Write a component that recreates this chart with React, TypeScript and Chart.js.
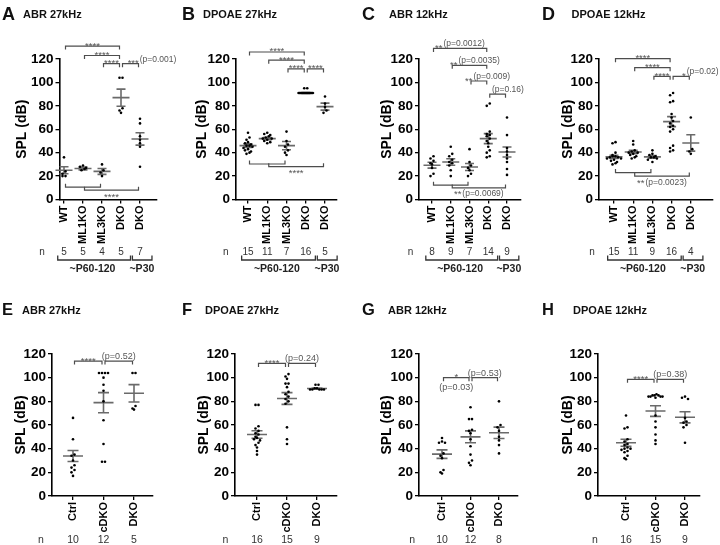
import React, { useEffect, useRef } from 'react';
import { Chart, registerables } from 'chart.js';

Chart.register(...registerables);

const FONT = "'Liberation Sans', Arial, Helvetica, sans-serif";
const STAT = '#6a6a6a';
const BRK = '#4d4d4d';
const LBL = '#555555';

// ---------- categories / ticks ----------
const topGroups = ['WT', 'ML1KO', 'ML3KO', 'DKO', 'DKO'];
const bottomGroups = ['Ctrl', 'cDKO', 'DKO'];
const yTickValues = [0, 20, 40, 60, 80, 100, 120];
const ageLabels = ['~P60-120', '~P30'];
const yTitle = 'SPL (dB)';

type Bracket = { from: number; to: number; y: number; stars?: string; p?: string; at?: number; side?: 'top' | 'bottom'; pBelow?: boolean };

// ---------- A: ABR 27kHz ----------
const aPoints = [[36, 24, 22, 20, 20], [29, 28, 27, 26, 25], [30, 25, 23, 20], [104, 104, 78, 76, 74], [69, 65, 54, 51, 48, 45, 28]];
const aMeans = [25, 26.5, 24, 87, 51.7];
const aSems = [3, 1.2, 2.5, 7.3, 5.3];
const aN = [5, 5, 4, 5, 7];
const aBrackets: Bracket[] = [
  { from: 0, to: 3, y: 131, stars: '****' },
  { from: 1, to: 3, y: 123, stars: '****' },
  { from: 2, to: 3, y: 116, stars: '****' },
  { from: 3, to: 4, y: 116, stars: '***', p: '(p=0.001)', at: 3.35 },
  { from: 0, to: 2, y: 10.5, side: 'bottom' },
  { from: 1, to: 4, y: 8, stars: '****', side: 'bottom' },
];

// ---------- B: DPOAE 27kHz ----------
const bPoints = [
  [57, 53, 51, 49, 48, 47, 46, 46, 45, 44, 43, 42, 41, 40, 39],
  [57, 56, 55, 54, 53, 52, 52, 51, 50, 49, 48],
  [58, 50, 47, 45, 42, 40, 38],
  [95, 95, 91, 91, 91, 91, 91, 91, 91, 91, 91, 91, 91, 91, 91, 91],
  [88, 82, 79, 76, 74],
];
const bMeans = [46, 52, 46, 91, 79.3];
const bSems = [1.5, 1, 3.5, 0.4, 3];
const bN = [15, 11, 7, 16, 5];
const bBrackets: Bracket[] = [
  { from: 0, to: 3, y: 126, stars: '****' },
  { from: 1, to: 3, y: 119, stars: '****' },
  { from: 2, to: 3, y: 111.5, stars: '****' },
  { from: 3, to: 4, y: 111.5, stars: '****' },
  { from: 0, to: 2, y: 30.3, side: 'bottom' },
  { from: 1, to: 4, y: 28, stars: '****', side: 'bottom' },
];

// ---------- C: ABR 12kHz ----------
const cPoints = [
  [37, 35, 33, 31, 30, 27, 22, 20],
  [45, 39, 37, 34, 32, 31, 29, 25, 20],
  [43, 32, 29, 27, 25, 22, 20],
  [82, 80, 58, 55, 56, 54, 52, 50, 48, 45, 42, 40, 37, 36],
  [70, 55, 44, 41, 38, 35, 32, 26, 21],
];
const cMeans = [29.3, 32, 27.8, 52, 40.6];
const cSems = [2.5, 2.8, 3, 4.3, 4.3];
const cN = [8, 9, 7, 14, 9];
const cBrackets: Bracket[] = [
  { from: 0, to: 3, y: 129, stars: '**', p: '(p=0.0012)', at: 0.16 },
  { from: 1, to: 3, y: 114.6, stars: '**', p: '(p=0.0035)', at: 0.96 },
  { from: 2, to: 3, y: 101.2, stars: '**', p: '(p=0.009)', at: 1.76 },
  { from: 3, to: 4, y: 90, p: '(p=0.16)', at: 3.2 },
  { from: 0, to: 2, y: 12.2, side: 'bottom' },
  { from: 1, to: 4, y: 9.9, stars: '**', p: '(p=0.0069)', at: 1.17, side: 'bottom' },
];

// ---------- D: DPOAE 12kHz ----------
const dPoints = [
  [49, 48, 40, 38, 37, 37, 36, 36, 35, 35, 34, 33, 32, 31, 30],
  [50, 47, 42, 41, 40, 40, 39, 38, 37, 36, 35],
  [42, 39, 38, 37, 36, 36, 35, 34, 32],
  [91, 89, 84, 83, 73, 70, 67, 65, 63, 62, 60, 58, 46, 44, 42, 41],
  [70, 43, 41, 39],
];
const dMeans = [36.4, 40.6, 36.4, 66.5, 48.3];
const dSems = [1.3, 1.4, 1.1, 4.3, 7];
const dN = [15, 11, 9, 16, 4];
const dBrackets: Bracket[] = [
  { from: 0, to: 3, y: 120.3, stars: '****' },
  { from: 1, to: 3, y: 112.6, stars: '****' },
  { from: 2, to: 3, y: 105.2, stars: '****' },
  { from: 3, to: 4, y: 105.2, stars: '*', p: '(p=0.02)', at: 3.54 },
  { from: 0, to: 2, y: 23, side: 'bottom' },
  { from: 1, to: 4, y: 20, stars: '**', p: '(p=0.0023)', at: 1.2, side: 'bottom' },
];

// ---------- E: ABR 27kHz ----------
const ePoints = [
  [66, 48, 35, 34, 30, 26, 24, 22, 20, 17],
  [104, 104, 104, 104, 100, 94, 89, 80, 64, 44, 29, 29],
  [104, 104, 76, 74, 73],
];
const eMeans = [33.8, 78.9, 86.8];
const eSems = [4.7, 8.5, 7.3];
const eN = [10, 12, 5];
const eBrackets: Bracket[] = [
  { from: 0, to: 1, y: 114, stars: '****' },
  { from: 1, to: 2, y: 114, p: '(p=0.52)' },
];

// ---------- F: DPOAE 27kHz ----------
const fPoints = [
  [77, 77, 59, 57, 55, 53, 52, 50, 49, 48, 47, 45, 43, 41, 38, 35],
  [103, 101, 99, 95, 95, 92, 88, 86, 84, 82, 80, 78, 58, 48, 44],
  [94, 94, 91, 91, 90, 90, 90, 90, 90],
];
const fMeans = [52, 82.4, 90.8];
const fSems = [3.2, 5, 0.5];
const fN = [16, 15, 9];
const fBrackets: Bracket[] = [
  { from: 0, to: 1, y: 112, stars: '****' },
  { from: 1, to: 2, y: 112, p: '(p=0.24)' },
];

// ---------- G: ABR 12kHz ----------
const gPoints = [
  [49, 46, 45, 45, 36, 34, 32, 22, 20, 19],
  [75, 65, 65, 56, 55, 53, 48, 42, 35, 30, 28, 26],
  [80, 60, 58, 55, 50, 47, 43, 36],
];
const gMeans = [35.4, 50, 53.4];
const gSems = [3.6, 5, 4.8];
const gN = [10, 12, 8];
const gBrackets: Bracket[] = [
  { from: 0, to: 1, y: 100, stars: '*', p: '(p=0.03)', pBelow: true },
  { from: 1, to: 2, y: 100, p: '(p=0.53)' },
];

// ---------- H: DPOAE 12kHz ----------
const hPoints = [
  [68, 58, 57, 48, 46, 44, 43, 41, 40, 40, 39, 38, 37, 34, 32, 31],
  [86, 85, 85, 85, 84, 84, 84, 84, 83, 68, 63, 58, 52, 47, 44],
  [84, 83, 82, 66, 63, 62, 60, 58, 45],
];
const hMeans = [45, 71.8, 66.5];
const hSems = [3, 4.5, 4.7];
const hN = [16, 15, 9];
const hBrackets: Bracket[] = [
  { from: 0, to: 1, y: 98.6, stars: '****' },
  { from: 1, to: 2, y: 98.6, p: '(p=0.38)' },
];

// ---------- layout (not data) ----------
const ROW_TOP = { top: 0, h: 280, plotTop: 59, plotBottom: 199.5, nY: 252, letterY: 20, titleY: 17.5, letterSize: 18, nSize: 10, pSize: 8.5, nAt: -1.15, meanHalf: 8.5, capHalf: 4.5 };
const ROW_BOT = { top: 280, h: 265, plotTop: 74, plotBottom: 216, nY: 260, letterY: 35, titleY: 33.5, letterSize: 16.5, nSize: 10.5, pSize: 9, nAt: -1.05, meanHalf: 10, capHalf: 5.5 };

const panels = [
  { letter: 'A', title: 'ABR 27kHz', groups: topGroups, points: aPoints, means: aMeans, sems: aSems, ns: aN, brackets: aBrackets, row: ROW_TOP, age: true, geo: { left: 0, axisX: 59.5, rightX: 157, cat0X: 64, step: 19, titleGap: 37, titleX: 23 } },
  { letter: 'B', title: 'DPOAE 27kHz', groups: topGroups, points: bPoints, means: bMeans, sems: bSems, ns: bN, brackets: bBrackets, row: ROW_TOP, age: true, geo: { left: 180, axisX: 56, rightX: 157, cat0X: 68, step: 19.25, titleGap: 33.5, titleX: 23 } },
  { letter: 'C', title: 'ABR 12kHz', groups: topGroups, points: cPoints, means: cMeans, sems: cSems, ns: cN, brackets: cBrackets, row: ROW_TOP, age: true, geo: { left: 360, axisX: 59, rightX: 161, cat0X: 72, step: 18.75, titleGap: 31.5, titleX: 29 } },
  { letter: 'D', title: 'DPOAE 12kHz', groups: topGroups, points: dPoints, means: dMeans, sems: dSems, ns: dN, brackets: dBrackets, row: ROW_TOP, age: true, geo: { left: 540, axisX: 59, rightX: 173, cat0X: 74, step: 19.2, titleGap: 30.7, titleX: 31.5 } },
  { letter: 'E', title: 'ABR 27kHz', groups: bottomGroups, points: ePoints, means: eMeans, sems: eSems, ns: eN, brackets: eBrackets, row: ROW_BOT, age: false, geo: { left: 0, axisX: 52, rightX: 153, cat0X: 73, step: 30.5, titleGap: 31.2, titleX: 22 } },
  { letter: 'F', title: 'DPOAE 27kHz', groups: bottomGroups, points: fPoints, means: fMeans, sems: fSems, ns: fN, brackets: fBrackets, row: ROW_BOT, age: false, geo: { left: 180, axisX: 55, rightX: 157, cat0X: 77, step: 30, titleGap: 30.5, titleX: 25 } },
  { letter: 'G', title: 'ABR 12kHz', groups: bottomGroups, points: gPoints, means: gMeans, sems: gSems, ns: gN, brackets: gBrackets, row: ROW_BOT, age: false, geo: { left: 360, axisX: 59, rightX: 158, cat0X: 82, step: 28.5, titleGap: 31.5, titleX: 28 } },
  { letter: 'H', title: 'DPOAE 12kHz', groups: bottomGroups, points: hPoints, means: hMeans, sems: hSems, ns: hN, brackets: hBrackets, row: ROW_BOT, age: false, geo: { left: 540, axisX: 58, rightX: 160, cat0X: 86, step: 29.5, titleGap: 30, titleX: 33 } },
];

const AGE_SEGS = [[-0.33, 3.5], [3.6, 4.63]];
const AGE_CENTERS = [1.5, 4.1];

// horizontal spreading of points with similar values (beeswarm-like layout)
function swarm(vals: number[], idx: number, stepPx: number) {
  const sorted = [...vals].sort((a, b) => b - a);
  const out: { x: number; y: number }[] = [];
  let i = 0;
  while (i < sorted.length) {
    let j = i;
    while (j < sorted.length && sorted[i] - sorted[j] <= 2.5) j++;
    const m = j - i;
    const d = m > 1 ? Math.min(3, 14 / (m - 1)) : 0;
    for (let c = 0; c < m; c++) {
      const order = c % 2 === 0 ? c / 2 : -(c + 1) / 2;
      const centered = order - (m % 2 === 0 ? -0.5 : 0);
      const off = m > 1 ? centered * d : 0;
      out.push({ x: idx + off / stepPx, y: sorted[i + c] });
    }
    i = j;
  }
  return out;
}

function Panel({ spec }: { spec: any }) {
  const ref = useRef<HTMLCanvasElement>(null);
  const g = spec.geo;
  const row = spec.row;
  const W = 180;
  useEffect(() => {
    const xMin = (g.axisX - g.cat0X) / g.step;
    const xMax = (g.rightX - g.cat0X) / g.step;
    const yW = g.titleGap + 8.4;
    const xH = 40;
    const datasets = spec.points.map((vals: number[], i: number) => ({
      data: swarm(vals, i, g.step),
      pointRadius: 1.3,
      pointBackgroundColor: '#000',
      pointBorderWidth: 0,
      clip: false,
    }));

    const decor = {
      id: 'decor' + spec.letter,
      beforeDatasetsDraw(chart: any) {
        const ctx = chart.ctx;
        const px = (v: number) => chart.scales.x.getPixelForValue(v);
        const py = (v: number) => chart.scales.y.getPixelForValue(v);
        ctx.save();
        ctx.strokeStyle = STAT;
        ctx.lineWidth = 1.6;
        spec.means.forEach((m: number, i: number) => {
          const cx = px(i);
          const ym = py(m);
          const yt = py(m + spec.sems[i]);
          const yb = py(m - spec.sems[i]);
          ctx.beginPath();
          ctx.moveTo(cx - row.meanHalf, ym); ctx.lineTo(cx + row.meanHalf, ym);
          ctx.moveTo(cx, yt); ctx.lineTo(cx, yb);
          ctx.moveTo(cx - row.capHalf, yt); ctx.lineTo(cx + row.capHalf, yt);
          ctx.moveTo(cx - row.capHalf, yb); ctx.lineTo(cx + row.capHalf, yb);
          ctx.stroke();
        });
        ctx.restore();
      },
      afterDraw(chart: any) {
        const ctx = chart.ctx;
        const xs = chart.scales.x;
        const px = (v: number) => xs.getPixelForValue(v);
        const py = (v: number) => chart.scales.y.getPixelForValue(v);
        ctx.save();
        // titles
        ctx.fillStyle = '#111';
        ctx.textAlign = 'left';
        ctx.textBaseline = 'alphabetic';
        ctx.font = `bold ${row.letterSize}px ${FONT}`;
        ctx.fillText(spec.letter, 2, row.letterY);
        ctx.font = `bold 11px ${FONT}`;
        ctx.fillText(spec.title, g.titleX, row.titleY);

        // x category labels (rotated, reading upward, ending just under the axis)
        ctx.fillStyle = '#000';
        ctx.font = `bold 11px ${FONT}`;
        ctx.textAlign = 'right';
        ctx.textBaseline = 'middle';
        spec.groups.forEach((lab: string, i: number) => {
          ctx.save();
          ctx.translate(px(i), xs.top + 6);
          ctx.rotate(-Math.PI / 2);
          ctx.fillText(lab, 0, 0);
          ctx.restore();
        });

        // significance brackets
        spec.brackets.forEach((b: Bracket) => {
          const below = b.side === 'bottom';
          const x1 = px(b.from) + 1.5;
          const x2 = px(b.to) - 1.5;
          const yy = py(b.y);
          const dir = below ? -1 : 1;
          ctx.strokeStyle = BRK;
          ctx.lineWidth = 1.2;
          ctx.beginPath();
          ctx.moveTo(x1, yy + 3.5 * dir);
          ctx.lineTo(x1, yy);
          ctx.lineTo(x2, yy);
          ctx.lineTo(x2, yy + 3.5 * dir);
          ctx.stroke();
          ctx.fillStyle = LBL;
          ctx.textBaseline = 'alphabetic';
          const starFont = `9.5px ${FONT}`;
          const pFont = `${row.pSize}px ${FONT}`;
          const starBase = below ? yy + 9.5 : yy + 2.5;
          const pBase = below ? yy + 8.5 : yy - 2;
          if (b.at !== undefined) {
            let x = px(b.at);
            ctx.textAlign = 'left';
            if (b.stars) {
              ctx.font = starFont;
              ctx.fillText(b.stars, x, starBase);
              x += ctx.measureText(b.stars).width + 1;
            }
            if (b.p) {
              ctx.font = pFont;
              ctx.fillText(b.p, x, pBase);
            }
          } else {
            const cx = (x1 + x2) / 2;
            ctx.textAlign = 'center';
            if (b.stars) {
              ctx.font = starFont;
              ctx.fillText(b.stars, cx, starBase);
            }
            if (b.p) {
              ctx.font = pFont;
              ctx.fillText(b.p, cx, b.pBelow ? yy + 12 : pBase);
            }
          }
        });

        // n row
        ctx.fillStyle = '#333';
        ctx.textAlign = 'center';
        ctx.textBaseline = 'middle';
        ctx.font = `${row.nSize}px ${FONT}`;
        ctx.fillText('n', px(row.nAt), row.nY);
        spec.ns.forEach((n: number, i: number) => ctx.fillText(String(n), px(i), row.nY));

        // age brackets
        if (spec.age) {
          ctx.strokeStyle = '#333';
          ctx.lineWidth = 1.3;
          const ly = 260;
          AGE_SEGS.forEach(([a, b2]) => {
            ctx.beginPath();
            ctx.moveTo(px(a), ly - 4.5);
            ctx.lineTo(px(a), ly);
            ctx.lineTo(px(b2), ly);
            ctx.lineTo(px(b2), ly - 4.5);
            ctx.stroke();
          });
          ctx.fillStyle = '#222';
          ctx.font = `bold 10.5px ${FONT}`;
          ctx.textBaseline = 'middle';
          ageLabels.forEach((t, i) => ctx.fillText(t, px(AGE_CENTERS[i]), 269.5));
        }
        ctx.restore();
      },
    };

    const axisGrid = { display: true, drawOnChartArea: false, drawTicks: true, tickLength: 4, color: '#000', lineWidth: 1.3 };
    const axisBorder = { display: true, color: '#000', width: 1.6 };

    const chart = new Chart(ref.current as HTMLCanvasElement, {
      type: 'scatter',
      data: { datasets },
      options: {
        responsive: false,
        animation: false,
        events: [],
        layout: {
          padding: {
            left: g.axisX - yW,
            right: W - g.rightX,
            top: row.plotTop,
            bottom: row.h - row.plotBottom - xH,
          },
        },
        plugins: { legend: { display: false }, tooltip: { enabled: false } },
        scales: {
          x: {
            type: 'linear',
            min: xMin,
            max: xMax,
            afterFit: (s: any) => { s.height = xH; },
            afterBuildTicks: (s: any) => { s.ticks = spec.groups.map((_: string, i: number) => ({ value: i })); },
            ticks: { display: false, autoSkip: false },
            grid: axisGrid,
            border: axisBorder,
          },
          y: {
            type: 'linear',
            min: 0,
            max: 120,
            afterFit: (s: any) => { s.width = yW; },
            afterBuildTicks: (s: any) => { s.ticks = yTickValues.map((v) => ({ value: v })); },
            ticks: { padding: 2, color: '#000', font: { family: FONT, size: 13.5, weight: 'bold' } },
            title: { display: true, text: yTitle, padding: 0, color: '#000', font: { family: FONT, size: 14, weight: 'bold' } },
            grid: axisGrid,
            border: axisBorder,
          },
        },
      } as any,
      plugins: [decor],
    } as any);
    return () => chart.destroy();
  }, []);
  return (
    <canvas
      ref={ref}
      width={W}
      height={row.h}
      style={{ position: 'absolute', left: g.left, top: row.top, width: W, height: row.h }}
    />
  );
}

export default function App() {
  return (
    <div style={{ position: 'fixed', left: 0, top: 0, width: 720, height: 545, background: '#fff', overflow: 'hidden' }}>
      {panels.map((p) => (
        <Panel key={p.letter} spec={p} />
      ))}
    </div>
  );
}
